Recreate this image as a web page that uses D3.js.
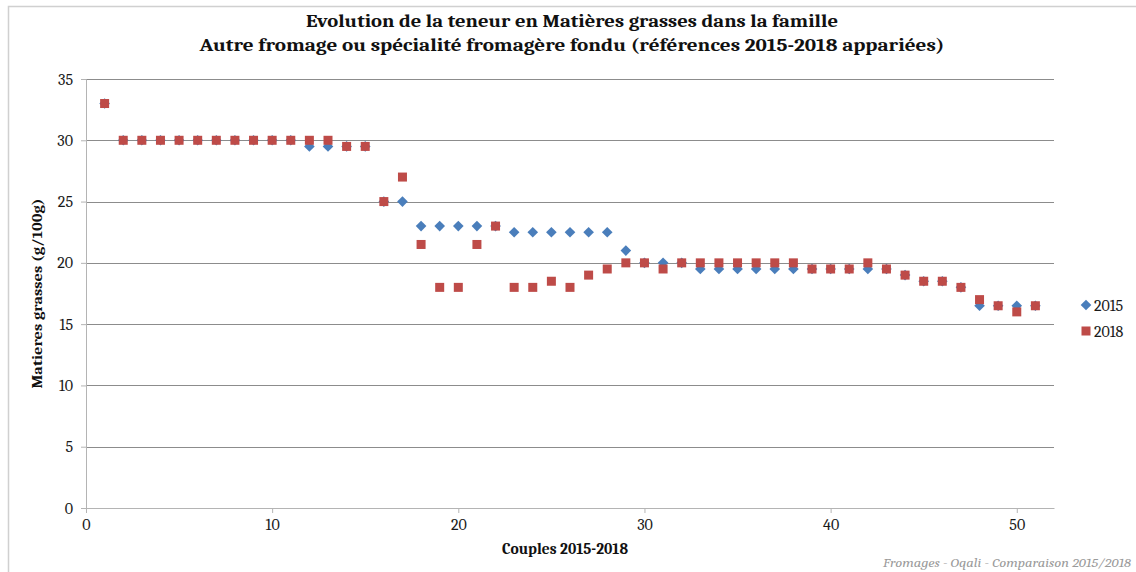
<!DOCTYPE html>
<html>
<head>
<meta charset="utf-8">
<script src="https://cdn.jsdelivr.net/npm/d3@7"></script>
<style>
  html, body { margin: 0; padding: 0; background: #fff; }
  svg { display: block; }
</style>
</head>
<body>
<svg id="chart" width="1136" height="572"></svg>
<script>
const titleLines = [
  "Evolution de la teneur en Matières grasses dans la famille",
  "Autre fromage ou spécialité fromagère fondu (références 2015-2018 appariées)"
];
const xTitle = "Couples 2015-2018";
const yTitle = "Matieres grasses (g/100g)";
const footnote = "Fromages - Oqali - Comparaison 2015/2018";
const seriesNames = ["2015", "2018"];
const couples = d3.range(1, 52);
const values2015 = [33, 30, 30, 30, 30, 30, 30, 30, 30, 30,
  30, 29.5, 29.5, 29.5, 29.5, 25, 25, 23, 23, 23,
  23, 23, 22.5, 22.5, 22.5, 22.5, 22.5, 22.5, 21, 20,
  20, 20, 19.5, 19.5, 19.5, 19.5, 19.5, 19.5, 19.5, 19.5,
  19.5, 19.5, 19.5, 19, 18.5, 18.5, 18, 16.5, 16.5, 16.5,
  16.5];
const values2018 = [33, 30, 30, 30, 30, 30, 30, 30, 30, 30,
  30, 30, 30, 29.5, 29.5, 25, 27, 21.5, 18, 18,
  21.5, 23, 18, 18, 18.5, 18, 19, 19.5, 20, 20,
  19.5, 20, 20, 20, 20, 20, 20, 20, 19.5, 19.5,
  19.5, 20, 19.5, 19, 18.5, 18.5, 18, 17, 16.5, 16,
  16.5];
const xTicks = [0, 10, 20, 30, 40, 50];
const yTicks = [0, 5, 10, 15, 20, 25, 30, 35];

const svg = d3.select("#chart");
const serif = "Cambria, 'Liberation Serif', 'DejaVu Serif', serif";

// outer frame
svg.append("path")
  .attr("d", "M8.5,572 L8.5,6.5 L1136,6.5")
  .attr("fill", "none").attr("stroke", "#d0d0d0").attr("stroke-width", 1.5);

const x = d3.scaleLinear().domain([0, 52]).range([86, 1054]);
const y = d3.scaleLinear().domain([0, 35]).range([508, 79]);

// gridlines
svg.append("g").selectAll("line").data(yTicks.filter(d => d > 0)).join("line")
  .attr("x1", x(0)).attr("x2", x(52))
  .attr("y1", d => Math.round(y(d)) + 0.5).attr("y2", d => Math.round(y(d)) + 0.5)
  .attr("stroke", "#8c8c8c").attr("stroke-width", 1);

// y axis
const yAxis = svg.append("g").attr("transform", `translate(${x(0)},0)`)
  .call(d3.axisLeft(y).tickValues(yTicks).tickSize(5).tickPadding(8));
yAxis.select(".domain").attr("stroke", "#b4b4b4");
yAxis.selectAll(".tick line").attr("stroke", "#b4b4b4");
yAxis.selectAll(".tick text").attr("font-family", serif).attr("font-size", 16).attr("fill", "#1a1a1a");

// x axis
const xAxis = svg.append("g").attr("transform", `translate(0,${y(0)})`)
  .call(d3.axisBottom(x).tickValues(xTicks).tickSize(5).tickPadding(6).tickSizeOuter(0));
xAxis.select(".domain").attr("stroke", "#b4b4b4");
xAxis.selectAll(".tick line").attr("stroke", "#b4b4b4");
xAxis.selectAll(".tick text").attr("font-family", serif).attr("font-size", 16).attr("fill", "#1a1a1a");

// series
const data2015 = couples.map((c, i) => ({ c, v: values2015[i] }));
const data2018 = couples.map((c, i) => ({ c, v: values2018[i] }));
const diamond = d3.symbol().type(d3.symbolDiamond2).size(72);

svg.append("g").selectAll("path").data(data2015).join("path")
  .attr("d", diamond)
  .attr("transform", d => `translate(${x(d.c)},${y(d.v)})`)
  .attr("fill", "#4a7ebb");

svg.append("g").selectAll("rect").data(data2018).join("rect")
  .attr("x", d => x(d.c) - 4.5).attr("y", d => y(d.v) - 4.5)
  .attr("width", 9).attr("height", 9)
  .attr("fill", "#be4b48");

// titles
const t = svg.append("g").attr("font-family", serif).attr("font-weight", "bold").attr("fill", "#111");
const tw = [532, 745];
titleLines.forEach((s, i) => {
  t.append("text").attr("x", 572).attr("y", 27 + i * 24)
    .attr("text-anchor", "middle").attr("font-size", 19)
    .attr("textLength", tw[i]).attr("lengthAdjust", "spacingAndGlyphs")
    .text(s);
});

svg.append("text")
  .attr("transform", `translate(42,${(y(0) + y(35)) / 2}) rotate(-90)`)
  .attr("text-anchor", "middle").attr("font-family", serif).attr("font-weight", "bold")
  .attr("font-size", 14).attr("fill", "#111")
  .attr("textLength", 190).attr("lengthAdjust", "spacingAndGlyphs")
  .text(yTitle);

svg.append("text")
  .attr("x", 565).attr("y", 554)
  .attr("text-anchor", "middle").attr("font-family", serif).attr("font-weight", "bold")
  .attr("font-size", 15).attr("fill", "#111")
  .attr("textLength", 126).attr("lengthAdjust", "spacingAndGlyphs")
  .text(xTitle);

// legend
const leg = svg.append("g");
leg.append("path").attr("d", diamond).attr("transform", "translate(1086,305)").attr("fill", "#4a7ebb");
leg.append("rect").attr("x", 1081.5).attr("y", 326.5).attr("width", 9).attr("height", 9).attr("fill", "#be4b48");
seriesNames.forEach((n, i) => {
  leg.append("text").attr("x", 1094).attr("y", 311 + i * 26)
    .attr("font-family", serif).attr("font-size", 16).attr("fill", "#1a1a1a").text(n);
});

svg.append("text")
  .attr("x", 1131).attr("y", 567).attr("text-anchor", "end")
  .attr("font-family", serif).attr("font-style", "italic").attr("font-size", 12.5)
  .attr("fill", "#9a9a9a")
  .attr("textLength", 248).attr("lengthAdjust", "spacingAndGlyphs")
  .text(footnote);
</script>
</body>
</html>
